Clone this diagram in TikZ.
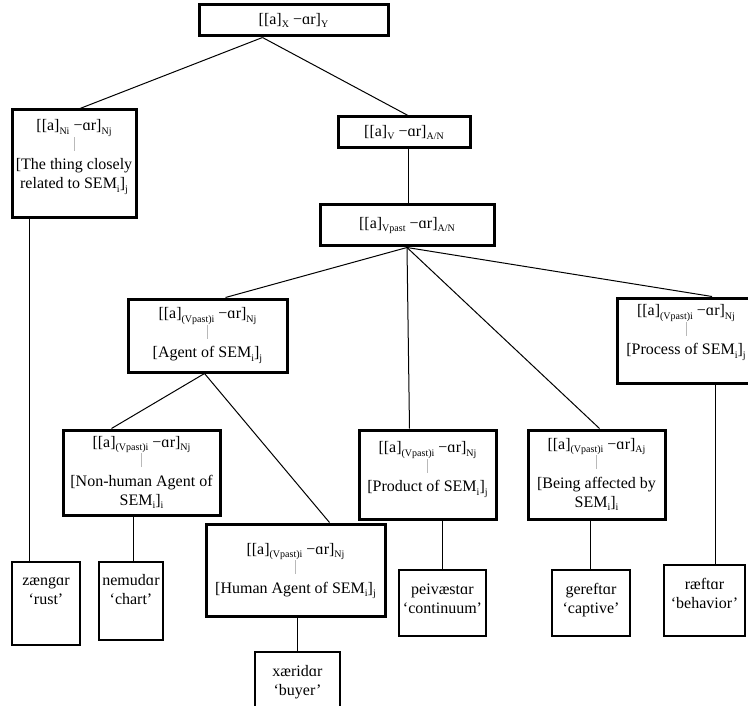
\documentclass[tikz,border=0pt]{standalone}
\usepackage{fontspec}
\setmainfont{Liberation Serif}
\newcommand{\sbs}[1]{\raisebox{-3.5pt}{\fontsize{10}{10}\selectfont #1}}
\newcommand{\frm}[2]{[[a]\sbs{#1}\ −ɑr]\sbs{#2}}
\newcommand{\lift}[2]{\raisebox{#1}[\height][\depth]{\begin{tabular}{@{}c@{}}#2\end{tabular}}}
\newcommand{\vbar}{\textcolor{gray!55}{\rule{0.9pt}{14pt}}}
\begin{document}
\begin{tikzpicture}[x=1pt,y=-1pt,
  font=\fontsize{16}{19}\selectfont,
  cbox/.style={draw,line width=3pt,inner sep=0pt,align=center},
  leaf/.style={draw,line width=1.2pt,inner sep=0pt,align=center},
  link/.style={line width=1pt}]
\useasboundingbox (0,0) rectangle (748,706);

%TOP
  \node[cbox,minimum width=189pt,minimum height=31pt] (top) at (293.5,20.5) {\frm{X}{Y}};

%LEFT BRANCH
  \node[cbox,minimum width=124pt,minimum height=108pt] (thing) at (74,164)
    {\lift{8pt}{\frm{Ni}{Nj}\\ \vbar\\ {[}The thing closely\\ related to SEM\sbs{i}]\sbs{j}}};
  \node[leaf,minimum width=68pt,minimum height=83pt] (zaeng) at (46,603.5)
    {\lift{12pt}{zængɑr\\ ‘rust’}};

%VERB BRANCH
  \node[cbox,minimum width=132pt,minimum height=31pt] (verb) at (404,132.5) {\frm{V}{A/N}};
  \node[cbox,minimum width=174pt,minimum height=41pt] (past) at (407,225.5) {\frm{Vpast}{A/N}};

  \node[cbox,minimum width=159pt,minimum height=73pt] (agent) at (207.5,335.5)
    {\lift{1pt}{\frm{(Vpast)i}{Nj}\\ \vbar\\ {[}Agent of SEM\sbs{i}]\sbs{j}}};
  \node[cbox,minimum width=138pt,minimum height=85pt] (proc) at (686,340.5)
    {\lift{9pt}{\frm{(Vpast)i}{Nj}\\ \vbar\\ {[}Process of SEM\sbs{i}]\sbs{j}}};

  \node[cbox,minimum width=157pt,minimum height=85pt] (nonhum) at (141.5,472.5)
    {\lift{0pt}{\frm{(Vpast)i}{Nj}\\ \vbar\\ {[}Non-human Agent of\\ SEM\sbs{i}]\sbs{i}}};
  \node[cbox,minimum width=137pt,minimum height=89pt] (prod) at (427.5,474.5)
    {\lift{6pt}{\frm{(Vpast)i}{Nj}\\ \vbar\\ {[}Product of SEM\sbs{i}]\sbs{j}}};
  \node[cbox,minimum width=137pt,minimum height=89pt] (affect) at (596.5,474.5)
    {\lift{0pt}{\frm{(Vpast)i}{Aj}\\ \vbar\\ {[}Being affected by\\ SEM\sbs{i}]\sbs{i}}};
  \node[cbox,minimum width=179pt,minimum height=92pt] (human) at (295.5,570)
    {\lift{0pt}{\frm{(Vpast)i}{Nj}\\ \vbar\\ {[}Human Agent of SEM\sbs{i}]\sbs{j}}};

%WORDS
  \node[leaf,minimum width=64pt,minimum height=78pt] (nemud) at (131,601) {\lift{10pt}{nemudɑr\\ ‘chart’}};
  \node[leaf,minimum width=87pt,minimum height=66pt] (peiv) at (442.5,603) {\lift{3pt}{peivæstɑr\\ ‘continuum’}};
  \node[leaf,minimum width=78pt,minimum height=66pt] (gereft) at (591,603) {\lift{3pt}{gereftɑr\\ ‘captive’}};
  \node[leaf,minimum width=81pt,minimum height=71pt] (raeft) at (704.5,600.5) {\lift{5pt}{ræftɑr\\ ‘behavior’}};
  \node[leaf,minimum width=85pt,minimum height=60pt] (xaer) at (297.5,682) {\lift{0pt}{xæridɑr\\ ‘buyer’}};

%LINKS
  \draw[link] ([xshift=-31pt]top.south) -- ([xshift=6pt]thing.north);
  \draw[link] ([xshift=-31pt]top.south) -- ([xshift=4pt]verb.north);
  \draw[link] ([xshift=4pt]verb.south) -- ([xshift=1pt]past.north);
  \draw[link] (past.south) -- ([xshift=18pt]agent.north);
  \draw[link] (past.south) -- ([xshift=-18pt]prod.north);
  \draw[link] (past.south) -- ([xshift=3pt]affect.north);
  \draw[link] (past.south) -- ([xshift=26pt]proc.north);
  \draw[link] ([xshift=-3pt]agent.south) -- ([xshift=-30pt]nonhum.north);
  \draw[link] ([xshift=-3pt]agent.south) -- ([xshift=34pt]human.north);
  \draw[link] ([xshift=-45pt]thing.south) -- ([xshift=-45pt]thing.south |- zaeng.north);
  \draw[link] ([xshift=-8pt]nonhum.south) -- ([xshift=-8pt]nonhum.south |- nemud.north);
  \draw[link] ([xshift=2pt]human.south) -- ([xshift=2pt]human.south |- xaer.north);
  \draw[link] ([xshift=15pt]prod.south) -- ([xshift=15pt]prod.south |- peiv.north);
  \draw[link] ([xshift=-6pt]affect.south) -- ([xshift=-6pt]affect.south |- gereft.north);
  \draw[link] ([xshift=29pt]proc.south) -- ([xshift=29pt]proc.south |- raeft.north);
\end{tikzpicture}
\end{document}
